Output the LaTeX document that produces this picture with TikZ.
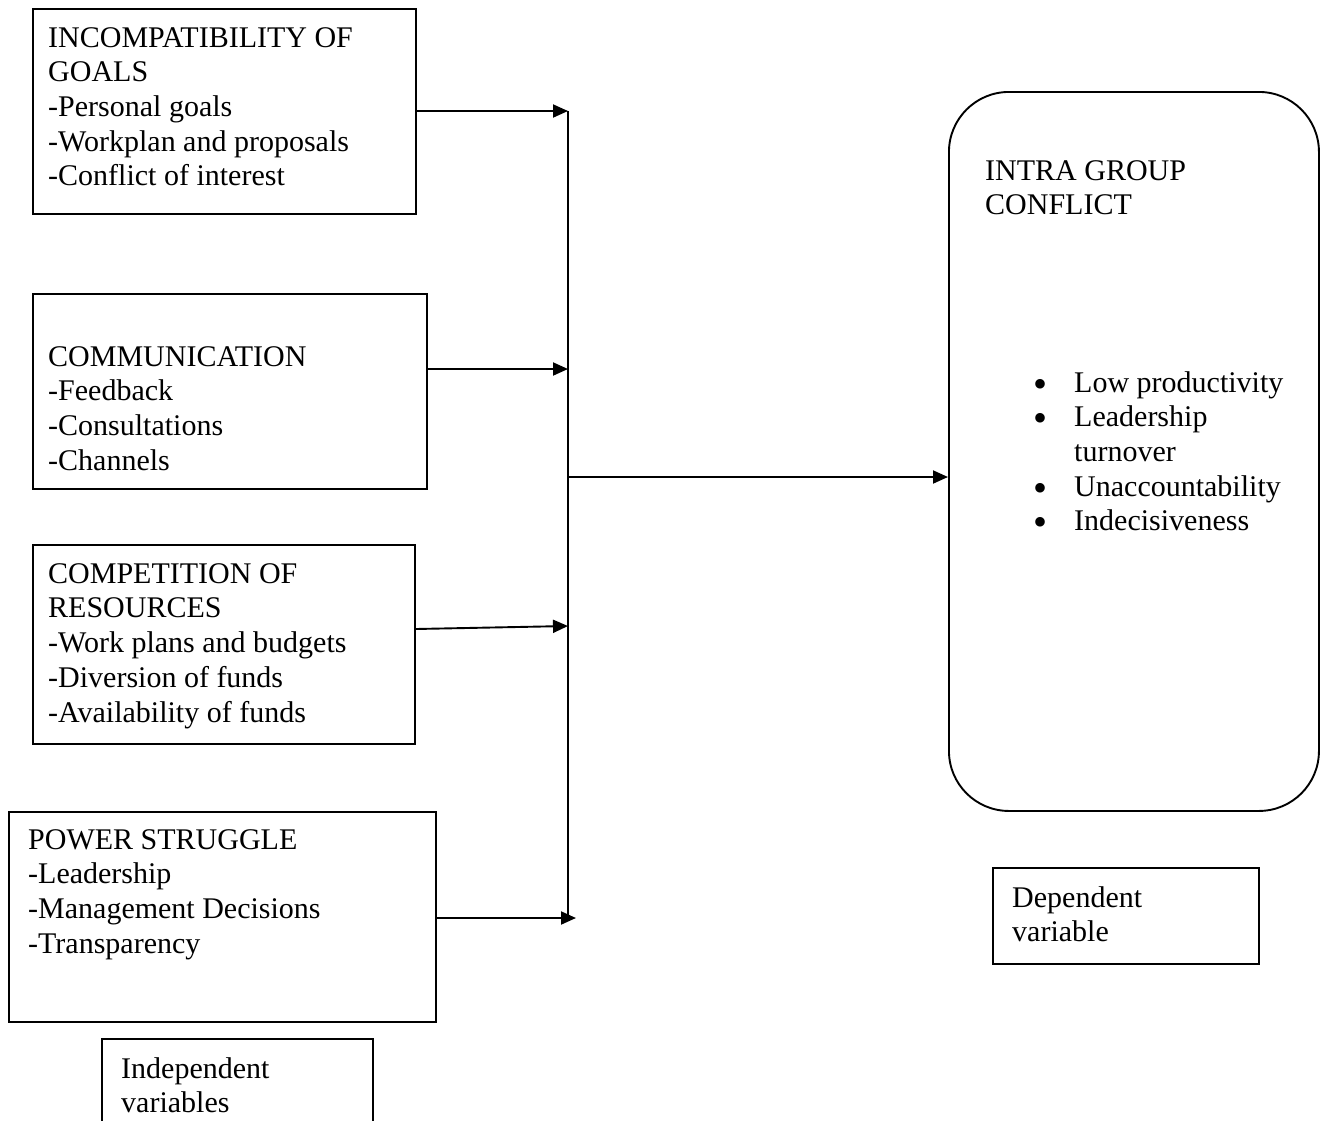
\documentclass[tikz,border=0pt]{standalone}
\usepackage{fontspec}
\setmainfont{Liberation Serif}
\usetikzlibrary{arrows.meta}
\newcommand{\fsz}{\fontsize{30}{34.7}\selectfont}
\newcommand{\bul}[1]{\makebox[42pt][l]{\hspace{1pt}\raisebox{-5pt}[0pt][0pt]{\fontsize{40}{34.7}\selectfont\textbullet}}#1}
\begin{document}
\begin{tikzpicture}[x=1pt,y=-1pt,
  box/.style={draw,line width=1.9pt,inner sep=0,anchor=north west},
  txt/.style={anchor=north west,inner sep=0,align=left,font=\fsz},
  arr/.style={line width=1.9pt,-{Triangle[length=15pt,width=13pt]}},
  bus/.style={line width=1.9pt}]
\useasboundingbox (0,0) rectangle (1323,1120);
% independent variable boxes
\node[box,minimum width=383pt,minimum height=205pt] (b1) at (32,8) {};
\node[txt] (t1txt) at (48,22.7) {\strut INCOMPATIBILITY OF\\GOALS\\-Personal goals\\-Workplan and proposals\\-Conflict of interest};
\node[box,minimum width=394pt,minimum height=195pt] (b2) at (32,293) {};
\node[txt] (t2txt) at (48,341.7) {\strut COMMUNICATION\\-Feedback\\-Consultations\\-Channels};
\node[box,minimum width=382pt,minimum height=199pt] (b3) at (32,544) {};
\node[txt] (t3txt) at (48,558.7) {\strut COMPETITION OF\\RESOURCES\\-Work plans and budgets\\-Diversion of funds\\-Availability of funds};
\node[box,minimum width=427pt,minimum height=210pt] (b4) at (8,811) {};
\node[txt] (t4txt) at (28,824.7) {\strut POWER STRUGGLE\\-Leadership\\-Management Decisions\\-Transparency};
\node[box,minimum width=271pt,minimum height=95pt] (ind) at (101,1038) {};
\node[txt] (indtxt) at (121,1053.7) {\strut Independent\\variables};
% dependent variable
\node[box,rounded corners=60pt,minimum width=370pt,minimum height=719pt] (big) at (948,91) {};
\node[txt] (bigtitle) at (985,155.7) {\strut INTRA GROUP\\CONFLICT};
\node[txt] (biglist) at (1032,367.7) {\strut\bul{Low productivity}\\\bul{Leadership}\\\makebox[42pt][l]{}turnover\\\bul{Unaccountability}\\\bul{Indecisiveness}};
\node[box,minimum width=266pt,minimum height=96pt] (dep) at (992,867) {};
\node[txt] (deptxt) at (1012,882.7) {\strut Dependent\\variable};
% connectors
\coordinate (j1) at (568,111);
\coordinate (j2) at (568,369);
\coordinate (j3) at (568,626);
\coordinate (j4) at (576,918);
\coordinate (jb) at (568,918);
\coordinate (jm) at (568,477);
\draw[bus] (j1) -- (jb);
\draw[arr] (b1.east |- j1) -- (j1);
\draw[arr] (b2.east |- j2) -- (j2);
\draw[arr] ([yshift=-3pt]b3.east |- j3) -- (j3);
\draw[arr] (b4.east |- j4) -- (j4);
\draw[arr] (jm) -- (jm -| big.west);
\end{tikzpicture}
\end{document}
